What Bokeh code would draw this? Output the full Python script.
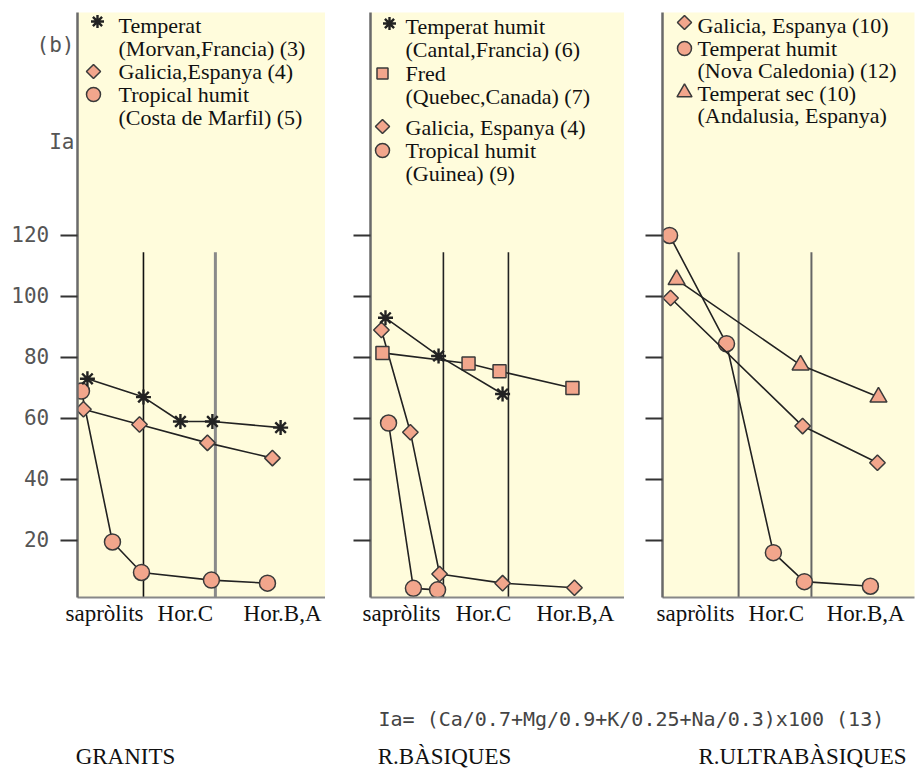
import math
from bokeh.plotting import figure
from bokeh.models import FixedTicker, Range1d
from bokeh.layouts import row, column
from bokeh.embed import file_html
from bokeh.resources import INLINE
from bokeh.core.properties import value

# ---------------- data ----------------
stage_labels = ["sapròlits", "Hor.C", "Hor.B,A"]
y_ticks = [20, 40, 60, 80, 100, 120]
side_labels = ["(b)", "Ia"]
side_label_y = [182.5, 150.5]

# Panel 1 : GRANITS
g_temp_x = [0.40, 2.66, 4.15, 5.44, 8.19]
g_temp_y = [73, 67, 59, 59, 57]
g_gal_x = [0.24, 2.50, 5.24, 7.86]
g_gal_y = [63, 58, 52, 47]
g_trop_x = [0.16, 1.41, 2.58, 5.40, 7.66]
g_trop_y = [69, 19.5, 9.5, 7, 6]
g_stage_x = [1.09, 4.35, 8.27]
g_vline_x = [2.66, 5.56]

# Panel 2 : R.BASIQUES
b_temp_x = [0.59, 2.68, 5.20]
b_temp_y = [93, 80.5, 68]
b_fred_x = [0.47, 3.86, 5.08, 7.95]
b_fred_y = [81.5, 78, 75.5, 70]
b_gal_x = [0.43, 1.57, 2.72, 5.20, 8.03]
b_gal_y = [89, 55.5, 9, 6, 4.5]
b_trop_x = [0.71, 1.69, 2.64]
b_trop_y = [58.5, 4.3, 3.8]
b_stage_x = [1.22, 4.45, 8.07]
b_vline_x = [2.87, 5.43]

# Panel 3 : R.ULTRABASIQUES
u_trop_x = [0.28, 2.54, 4.40, 5.63, 8.25]
u_trop_y = [120, 84.5, 16, 6.5, 5]
u_sec_x = [0.56, 5.48, 8.57]
u_sec_y = [105.5, 77.5, 67]
u_gal_x = [0.32, 5.56, 8.53]
u_gal_y = [99.5, 57.5, 45.5]
u_stage_x = [1.31, 4.52, 8.06]
u_vline_x = [3.02, 5.91]

vline_top = 114.5

legend1 = [("asterisk", ["Temperat", "(Morvan,Francia) (3)"]),
           ("diamond", ["Galicia,Espanya (4)"]),
           ("circle", ["Tropical humit", "(Costa de Marfil) (5)"])]
legend2 = [("asterisk", ["Temperat humit", "(Cantal,Francia)  (6)"]),
           ("square", ["Fred", "(Quebec,Canada) (7)"]),
           ("diamond", ["Galicia, Espanya (4)"]),
           ("circle", ["Tropical humit", "(Guinea) (9)"])]
legend3 = [("diamond", ["Galicia, Espanya (10)"]),
           ("circle", ["Temperat humit", "(Nova Caledonia) (12)"]),
           ("triangle", ["Temperat sec (10)", "(Andalusia, Espanya)"])]

group_titles = ["GRANITS", "R.BÀSIQUES", "R.ULTRABÀSIQUES"]
formula = "Ia= (Ca/0.7+Mg/0.9+K/0.25+Na/0.3)x100 (13)"

# ---------------- style / layout ----------------
YELLOW = "#FFFCDC"
SALMON = "#F2A68C"
EDGE = "#3a3a3a"
FRAME_TOP = 12
FRAME_H = 585
BOTTOM = 34
Y0, Y1 = 1.3, 193.1
SERIF = value("Liberation Serif")
MONO = value("DejaVu Sans Mono")
PAD = "\u2007\u2007"

MSIZE = {"circle": 16, "diamond": 11, "square": 13, "triangle": 17, "asterisk": 15}


def ypage(page_y):
    """page pixel y (inside the panel frame) -> data y"""
    return Y1 - (page_y - FRAME_TOP) * (Y1 - Y0) / FRAME_H


def draw_marker(p, xs, ys, marker, size):
    if marker == "asterisk":
        p.scatter(xs, ys, marker="asterisk", size=size, line_color="#222222", line_width=2.4)
    elif marker == "diamond":
        # square turned by 45 degrees: equal width and height like the printed diamonds
        p.scatter(xs, ys, marker="square", angle=math.pi / 4, size=size, fill_color=SALMON,
                  line_color=EDGE, line_width=1.5)
    else:
        p.scatter(xs, ys, marker=marker, size=size, fill_color=SALMON,
                  line_color=EDGE, line_width=1.5)


def add_series(p, xs, ys, marker):
    p.line(xs, ys, line_color="#222222", line_width=1.6)
    draw_marker(p, xs, ys, marker, MSIZE[marker])


def add_legend(p, frame_w, entries, mark_off, text_off, rows, mark_rows):
    k = 0
    for (marker, lines), mrow in zip(entries, mark_rows):
        mx = mark_off[marker] / frame_w * 10
        my = ypage(mrow)
        draw_marker(p, [mx], [my], marker, MSIZE[marker] - (1 if marker == "diamond" else 2))
        for ln in lines:
            p.text([text_off / frame_w * 10], [ypage(rows[k])], text=[ln], text_font=SERIF,
                   text_font_size="22px", text_baseline="middle", text_align="left",
                   text_color="#111111")
            k += 1


def make_panel(frame_w, left_border, right_border, first, stage_x, vline_x, vline_colors, vline_widths):
    p = figure(width=frame_w + left_border + right_border, height=FRAME_TOP + FRAME_H + BOTTOM,
               x_range=Range1d(0, 10), y_range=Range1d(Y0, Y1),
               output_backend="svg", toolbar_location=None,
               min_border_left=left_border, min_border_right=right_border,
               min_border_top=FRAME_TOP, min_border_bottom=BOTTOM,
               background_fill_color=YELLOW, border_fill_color="white",
               outline_line_color=None)
    p.xgrid.visible = False
    p.ygrid.visible = False
    ya = p.yaxis[0]
    ya.axis_line_color = "#6a6a6a"
    ya.axis_line_width = 2.5
    if first:
        # numeric tick marks as minor ticks; labels (incl. "(b)" and "Ia") as majors
        ya.ticker = FixedTicker(ticks=y_ticks + side_label_y, minor_ticks=y_ticks)
        overrides = {t: f"{t}{PAD}" for t in y_ticks}
        overrides.update({t: s for t, s in zip(side_label_y, side_labels)})
        ya.major_label_overrides = overrides
        ya.major_tick_out = 0
        ya.major_tick_in = 0
        ya.major_tick_line_color = None
        ya.minor_tick_out = 17
        ya.minor_tick_in = 0
        ya.minor_tick_line_width = 2
        ya.minor_tick_line_color = "#333333"
        ya.major_label_text_font = "DejaVu Sans Mono"
        ya.major_label_text_font_size = "21px"
        ya.major_label_text_color = "#555555"
        ya.major_label_standoff = -14
    else:
        ya.ticker = FixedTicker(ticks=y_ticks)
        ya.minor_tick_line_color = None
        ya.major_tick_out = 17
        ya.major_tick_in = 0
        ya.major_tick_line_width = 2
        ya.major_tick_line_color = "#333333"
        ya.major_label_text_font_size = "0px"
        ya.major_label_text_color = None
        ya.major_label_standoff = 0
    xa = p.xaxis[0]
    xa.ticker = FixedTicker(ticks=stage_x)
    xa.major_label_overrides = {sx: lab for sx, lab in zip(stage_x, stage_labels)}
    xa.major_tick_in = 0
    xa.major_tick_out = 0
    xa.major_tick_line_color = None
    xa.minor_tick_line_color = None
    xa.axis_line_color = "#888888"
    xa.axis_line_width = 2
    xa.major_label_text_font = "Liberation Serif"
    xa.major_label_text_font_size = "23px"
    xa.major_label_text_color = "#111111"
    xa.major_label_standoff = 3
    p.segment(x0=vline_x, y0=[0] * len(vline_x), x1=vline_x, y1=[vline_top] * len(vline_x),
              line_color=vline_colors, line_width=vline_widths)
    return p


# Panel 1
p1 = make_panel(248, 77, 0, True, g_stage_x, g_vline_x, ["#111111", "#8a8a8a"], [1.6, 3])
add_series(p1, g_trop_x, g_trop_y, "circle")
add_series(p1, g_gal_x, g_gal_y, "diamond")
add_series(p1, g_temp_x, g_temp_y, "asterisk")
add_legend(p1, 248, legend1, {"asterisk": 20, "diamond": 16, "circle": 16}, 41,
           [25, 48, 71, 94, 117], [21, 71, 94])

# Panel 2
p2 = make_panel(254, 45, 0, False, b_stage_x, b_vline_x, ["#222222", "#222222"], [1.6, 1.6])
add_series(p2, b_trop_x, b_trop_y, "circle")
add_series(p2, b_gal_x, b_gal_y, "diamond")
add_series(p2, b_fred_x, b_fred_y, "square")
add_series(p2, b_temp_x, b_temp_y, "asterisk")
add_legend(p2, 254, legend2, {"asterisk": 19, "square": 12, "diamond": 12, "circle": 12}, 35,
           [26, 49, 73, 96, 127, 150, 173], [23, 73, 126, 150])

# Panel 3
p3 = make_panel(252, 38, 2, False, u_stage_x, u_vline_x, ["#666666", "#666666"], [2, 2])
add_series(p3, u_trop_x, u_trop_y, "circle")
add_series(p3, u_gal_x, u_gal_y, "diamond")
add_series(p3, u_sec_x, u_sec_y, "triangle")
add_legend(p3, 252, legend3, {"diamond": 22, "circle": 22, "triangle": 22}, 35,
           [25, 48, 70, 93, 115], [22, 48, 92])

# Bottom text strip (page coordinates: x from left, y measured up from strip bottom)
BW, BH = 916, 139
pb = figure(width=BW, height=BH, x_range=Range1d(0, BW), y_range=Range1d(0, BH),
            output_backend="svg", toolbar_location=None,
            x_axis_location=None, y_axis_location=None,
            min_border=0, outline_line_color=None,
            background_fill_color="white", border_fill_color="white")
pb.xgrid.visible = False
pb.ygrid.visible = False
pb.text([378], [52], text=[formula], text_font=MONO, text_font_size="20px",
        text_color="#444444", text_baseline="middle", text_align="left")
pb.text([125, 444, 802], [14, 14, 14], text=group_titles, text_font=SERIF,
        text_font_size="23px", text_color="#111111", text_baseline="middle", text_align="center")

layout = column(row(p1, p2, p3), pb)
open("out.html", "w").write(file_html(layout, INLINE))
